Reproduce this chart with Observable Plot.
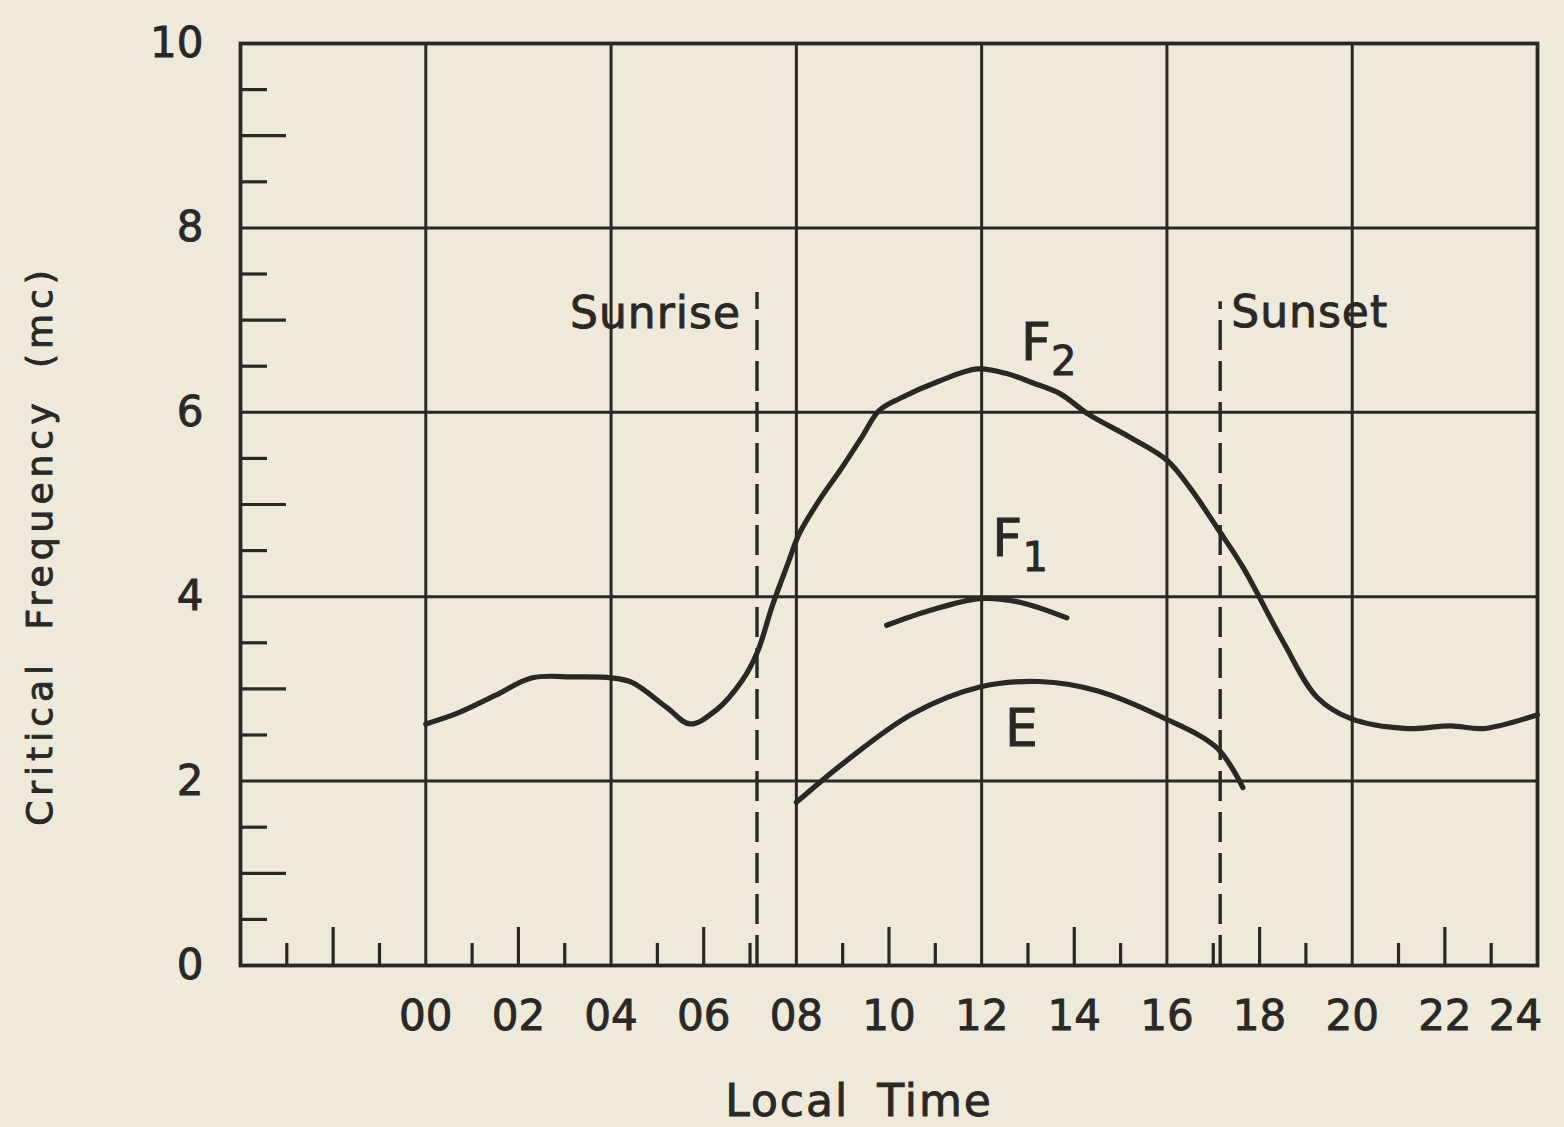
<!DOCTYPE html>
<html><head><meta charset="utf-8">
<script src="https://cdn.jsdelivr.net/npm/d3@7"></script>
<script src="https://cdn.jsdelivr.net/npm/@observablehq/plot@0.6"></script>
<style>
html,body{margin:0;padding:0;background:#efe9da;}
#chart svg{display:block;}
#chart svg text{stroke:#2a2825;stroke-width:0.9px;}
</style></head><body><div id="chart"></div>
<script>
// ---- data ----
const f2Time = [0, 0.7, 1.5, 2.3, 3.2, 4.0, 4.45, 5.2, 5.7, 6.27, 6.83, 7.16, 7.48, 7.81, 8.06, 8.5, 8.93, 9.4, 9.79, 10.23, 11.09, 11.91, 12.54, 13.1, 13.7, 14.3, 15.2, 16.0, 16.5, 17.08, 17.64, 18.5, 19.24, 19.96, 21.19, 22.12, 22.83, 24.0];
const f2Freq = [2.62, 2.74, 2.93, 3.12, 3.13, 3.12, 3.07, 2.80, 2.62, 2.77, 3.09, 3.40, 3.90, 4.35, 4.68, 5.05, 5.36, 5.72, 6.02, 6.15, 6.34, 6.47, 6.42, 6.32, 6.20, 5.98, 5.73, 5.48, 5.18, 4.75, 4.32, 3.52, 2.91, 2.68, 2.57, 2.60, 2.57, 2.72];
const f1Time = [9.95, 10.88, 11.96, 12.82, 13.84];
const f1Freq = [3.69, 3.85, 3.98, 3.94, 3.77];
const eTime = [8.0, 9.08, 10.51, 11.96, 13.25, 14.49, 15.91, 17.08, 17.64];
const eFreq = [1.77, 2.22, 2.73, 3.02, 3.08, 2.98, 2.69, 2.36, 1.93];

const eventNames = ["Sunrise", "Sunset"];
const eventTimes = [7.15, 17.15];
const eventTops = [7.3, 7.2];

const layerNames = ["F", "F", "E"];
const layerSubs = ["2", "1", ""];
const layerLabelTimes = [13.17, 12.55, 12.86];
const layerLabelFreqs = [6.75, 4.62, 2.56];

const xTickLabels = [0, 2, 4, 6, 8, 10, 12, 14, 16, 18, 20, 22];
const xLastTickLabel = [24];
const yTickLabels = [0, 2, 4, 6, 8, 10];
const xGrid = [0, 4, 8, 12, 16, 20];
const yGrid = [2, 4, 6, 8];
const xMinorOdd = [-3, -1, 1, 3, 5, 7, 9, 11, 13, 15, 17, 19, 21, 23];
const xMinorEven = [-2, 2, 6, 10, 14, 18, 22];
const yMinorHalf = [0.5, 1.5, 2.5, 3.5, 4.5, 5.5, 6.5, 7.5, 8.5, 9.5];
const yMinorOdd = [1, 3, 5, 7, 9];

// ---- tables ----
const toRows = (t, v) => t.map((d, i) => ({time: d, freq: v[i]}));
const f2 = toRows(f2Time, f2Freq);
const f1 = toRows(f1Time, f1Freq);
const eLayer = toRows(eTime, eFreq);
const events = eventNames.map((n, i) => ({label: n, time: eventTimes[i], top: eventTops[i]}));
const layerLabels = layerNames.map((n, i) => ({name: n, sub: layerSubs[i], time: layerLabelTimes[i], freq: layerLabelFreqs[i]}));

const ink = "#2a2825";
const W = 1564, H = 1127, mL = 240, mR = 27, mT = 43, mB = 162;
const frameW = W - mL - mR, frameH = H - mT - mB;
const hourFormat = d => String(d).padStart(2, "0");

const chart = Plot.plot({
  width: W, height: H,
  marginLeft: mL, marginRight: mR, marginTop: mT, marginBottom: mB,
  x: {domain: [-4, 24]},
  y: {domain: [0, 10]},
  style: {background: "transparent", fontFamily: "DejaVu Sans", color: ink},
  marks: [
    Plot.gridX(xGrid, {stroke: ink, strokeOpacity: 1, strokeWidth: 3}),
    Plot.gridY(yGrid, {stroke: ink, strokeOpacity: 1, strokeWidth: 3}),
    Plot.tickX(xMinorOdd, {x: d => d, insetTop: frameH - 22, stroke: ink, strokeWidth: 3.2}),
    Plot.tickX(xMinorEven, {x: d => d, insetTop: frameH - 38, stroke: ink, strokeWidth: 3.2}),
    Plot.tickY(yMinorHalf, {y: d => d, insetRight: frameW - 27, stroke: ink, strokeWidth: 3.2}),
    Plot.tickY(yMinorOdd, {y: d => d, insetRight: frameW - 46, stroke: ink, strokeWidth: 3.2}),
    Plot.ruleX(events, {x: "time", y1: 0, y2: "top", stroke: ink, strokeWidth: 3.4, strokeDasharray: "30,11"}),
    Plot.line(f2, {x: "time", y: "freq", curve: "catmull-rom", stroke: ink, strokeWidth: 5.2}),
    Plot.line(f1, {x: "time", y: "freq", curve: "catmull-rom", stroke: ink, strokeWidth: 5.2}),
    Plot.line(eLayer, {x: "time", y: "freq", curve: "catmull-rom", stroke: ink, strokeWidth: 5.2}),
    Plot.frame({stroke: ink, strokeWidth: 3.8}),
    Plot.axisX({ticks: xTickLabels, tickSize: 0, tickPadding: 35, fontSize: 42, label: null, tickFormat: hourFormat}),
    Plot.axisX({ticks: xLastTickLabel, tickSize: 0, tickPadding: 35, fontSize: 42, label: null, tickFormat: hourFormat, dx: -22}),
    Plot.axisY({ticks: yTickLabels, tickSize: 0, tickPadding: 37, fontSize: 42, label: null}),
    Plot.text([events[0]], {x: "time", y: "top", text: "label", textAnchor: "end", dx: -16, dy: 21, fontSize: 44, fill: ink}),
    Plot.text([events[1]], {x: "time", y: "top", text: "label", textAnchor: "start", dx: 11, dy: 11, fontSize: 44, fill: ink}),
    Plot.text(layerLabels, {x: "time", y: "freq", text: "name", fontSize: 52, fill: ink}),
    Plot.text(layerLabels, {x: "time", y: "freq", text: "sub", fontSize: 40, dx: 28, dy: 19, fill: ink}),
    Plot.text(["Local Time"], {frameAnchor: "bottom", textAnchor: "middle", dx: -30, dy: 150, fontSize: 44, fill: ink}),
    Plot.text(["Critical Frequency (mc)"], {frameAnchor: "left", textAnchor: "middle", rotate: -90, dx: -200, dy: 41, fontSize: 36, fill: ink})
  ]
});

chart.querySelectorAll("text").forEach(t => {
  const s = t.textContent;
  if (s === "Critical Frequency (mc)") { t.style.letterSpacing = "5px"; t.style.wordSpacing = "14px"; }
  if (s === "Local Time") { t.style.letterSpacing = "2px"; t.style.wordSpacing = "12px"; }
  if (s === "Sunrise" || s === "Sunset") { t.style.letterSpacing = "1px"; }
});
document.getElementById("chart").appendChild(chart);
</script>
</body></html>
